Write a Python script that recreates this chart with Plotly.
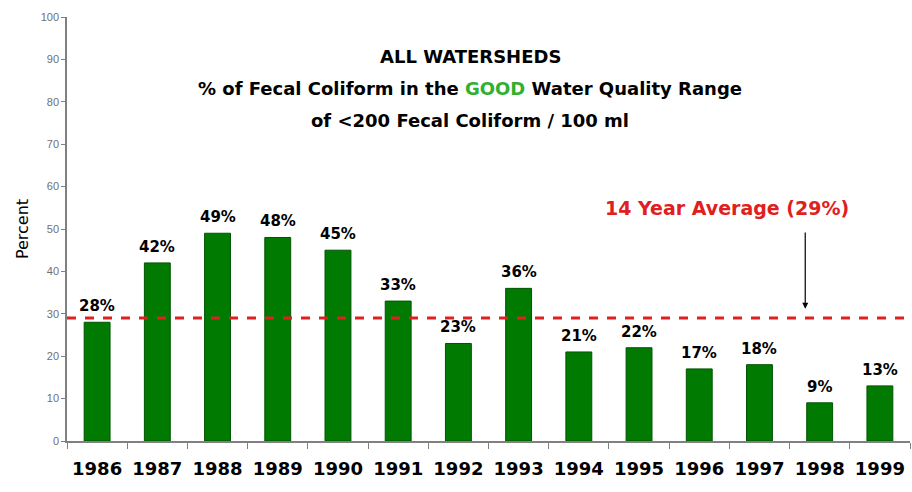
import plotly.graph_objects as go

years = ["1986", "1987", "1988", "1989", "1990", "1991", "1992",
         "1993", "1994", "1995", "1996", "1997", "1998", "1999"]
percent_good = [28, 42, 49, 48, 45, 33, 23, 36, 21, 22, 17, 18, 9, 13]
average = 29
y_ticks = [0, 10, 20, 30, 40, 50, 60, 70, 80, 90, 100]

FONT = "Comic Sans MS, DejaVu Sans, sans-serif"

fig = go.Figure()
fig.add_trace(go.Bar(
    x=years, y=percent_good,
    marker=dict(color="#007a00", line=dict(color="#005500", width=1)),
    width=0.43,
))

for i, v in enumerate(percent_good):
    fig.add_annotation(x=i, y=v, xref="x", yref="y", showarrow=False,
                       yanchor="bottom", yshift=5, text=f"<b>{v}%</b>",
                       font=dict(family=FONT, size=15, color="black"))

fig.add_shape(type="line", xref="paper", yref="y", x0=0.0, x1=0.995,
              y0=average, y1=average,
              line=dict(color="#e02020", width=3, dash="dash"))

fig.add_annotation(x=11.76, y=31.2, ax=11.76, ay=49.5, axref="x", ayref="y",
                   xref="x", yref="y", text="", showarrow=True,
                   arrowhead=2, arrowsize=1, arrowwidth=1.2, arrowcolor="black")
fig.add_annotation(x=10.46, y=55.0, xref="x", yref="y", showarrow=False,
                   text="<b>14 Year Average (29%)</b>",
                   font=dict(family=FONT, size=19, color="#e02020"))

title_lines = [
    ("<b>ALL WATERSHEDS</b>", 90.6),
    ("<b>% of Fecal Coliform in the <span style='color:#30b030'>GOOD</span> Water Quality Range</b>", 83.2),
    ("<b>of &lt;200 Fecal Coliform / 100 ml</b>", 75.7),
]
for txt, yy in title_lines:
    fig.add_annotation(x=6.2, y=yy, xref="x", yref="y", showarrow=False,
                       text=txt, font=dict(family=FONT, size=18, color="black"))

fig.update_layout(
    width=912, height=492,
    margin=dict(l=67, r=2, t=17, b=51, autoexpand=False),
    paper_bgcolor="white", plot_bgcolor="white",
    showlegend=False, bargap=0.57,
)
fig.update_xaxes(
    type="category", categoryorder="array", categoryarray=years,
    range=[-0.5, len(years) - 0.5],
    showline=True, linecolor="#808080", linewidth=1.5,
    ticks="outside", tickson="boundaries", ticklen=6, tickcolor="#808080",
    tickfont=dict(family=FONT, size=18, color="black"),
    ticklabelstandoff=11, showgrid=False, automargin=False,
    tickprefix="<b>", ticksuffix="</b>",
)
fig.update_yaxes(
    range=[0, 100], tickvals=y_ticks, showline=True, linecolor="#808080",
    linewidth=1.5, ticks="outside", ticklen=4, tickcolor="#808080",
    tickfont=dict(family="Arial, Liberation Sans, sans-serif", size=11, color="#707070"),
    showgrid=False, zeroline=False, automargin=False,
    title=dict(text="Percent", font=dict(family=FONT, size=16, color="black"), standoff=8),
)

fig.write_html("out.html", config={"displayModeBar": False},
               post_script="document.body.style.margin='0';")
